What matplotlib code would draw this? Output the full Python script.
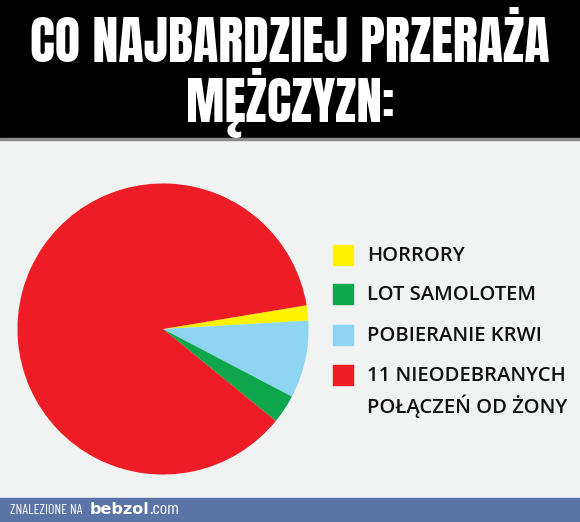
import matplotlib
matplotlib.use('Agg')
import matplotlib.pyplot as plt
from matplotlib.patches import Rectangle
from matplotlib import font_manager as fm

W, H = 580, 522

# data (pie shares)
labels = ['HORRORY', 'LOT SAMOLOTEM', 'POBIERANIE KRWI', '11 NIEODEBRANYCH\nPOŁĄCZEŃ OD ŻONY']
values = [1.7, 3.2, 8.6, 86.5]
colors = ['#FFF200', '#0DA64B', '#8ED4F3', '#EE1C25']
title_lines = ['CO NAJBARDZIEJ PRZERAŻA', 'MĘŻCZYZN:']

fonts = {}
for f in fm.fontManager.ttflist:
    fonts.setdefault(f.name, set()).add(f.weight)

def pick(cands, weight=None):
    for c in cands:
        if c in fonts and (weight is None or any(abs(int(w) - weight) <= 100 for w in fonts[c] if str(w).isdigit())):
            return c
    return 'DejaVu Sans'

impact = pick(['Anton', 'Impact', 'Oswald', 'Bebas Neue', 'Barlow Condensed', 'Archivo Narrow'])
legend_font = pick(['Montserrat SemiBold', 'Montserrat Medium', 'Montserrat', 'Open Sans'], weight=600)
small_cond = pick(['Barlow Condensed', 'Archivo Narrow', 'Asap Condensed'])

fig = plt.figure(figsize=(W / 100, H / 100), dpi=100)
fig.patch.set_facecolor('#F1F2F2')

def px(x, y):
    # pixel coords (top-left origin) -> figure fraction
    return x / W, 1 - y / H

# header band and footer band
fig.patches.append(Rectangle((0, 1 - 138 / H), 1, 138 / H, transform=fig.transFigure,
                             color='black', zorder=0))
fig.patches.append(Rectangle((0, 1 - 140 / H), 1, 2 / H, transform=fig.transFigure,
                             color='#8A8A8A', zorder=0))
fig.patches.append(Rectangle((0, 0), 1, 24 / H, transform=fig.transFigure,
                             color='#5B74A8', zorder=0))

# title, fitted to width
renderer = fig.canvas.get_renderer()
for line, yc, target in [(title_lines[0], 41, 518), (title_lines[1], 103, 208)]:
    t = fig.text(*px(290, yc), line, ha='center', va='center', color='white',
                 fontsize=40, fontweight='bold', family=impact)
    w = t.get_window_extent(renderer).width
    t.set_fontsize(40 * target / w)

# pie
ax = fig.add_axes([16 / W, 1 - 476 / H, 294 / W, 294 / H])
order = [0, 2, 1, 3]
ax.pie([values[i] for i in order], colors=[colors[i] for i in order],
       startangle=9.4, counterclock=False, radius=1,
       wedgeprops=dict(linewidth=0))
ax.set_xlim(-1.01, 1.01)
ax.set_ylim(-1.01, 1.01)
ax.set_aspect('equal')
ax.axis('off')

# legend
rows = [255, 294, 335, 375]
for lab, col, yc in zip(labels, colors, rows):
    fig.patches.append(Rectangle(px(333, yc + 10), 20 / W, 20 / H,
                                 transform=fig.transFigure, color=col, zorder=2))
    t = fig.text(*px(367, yc - 9), lab, ha='left', va='top', fontsize=13.5,
                 fontweight=600, family=legend_font, color='#111111',
                 linespacing=1.45)
    if lab.startswith('11'):
        w = t.get_window_extent(renderer).width
        scale = min(1.08, 203 / w)
for t in fig.texts[-4:]:
    t.set_fontsize(13.5 * scale)

# footer
fig.text(*px(10, 511), 'ZNALEZIONE NA', ha='left', va='center', color='white',
         fontsize=10, family=small_cond)
b = fig.text(*px(90, 510), 'bebzol', ha='left', va='center', color='white',
             fontsize=11.5, fontweight='bold', family='DejaVu Sans')
bw = b.get_window_extent(renderer).width
fig.text(*px(90 + bw, 510), '.com', ha='left', va='center', color='white',
         fontsize=13, family=small_cond)

fig.savefig('out.png', dpi=100, facecolor=fig.get_facecolor())
